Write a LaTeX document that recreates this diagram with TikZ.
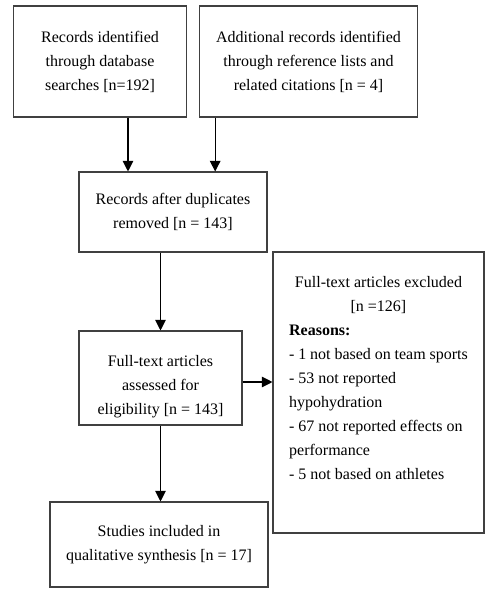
\documentclass[tikz,border=0pt]{standalone}
\usepackage{fontspec}
\setmainfont{Liberation Serif}
\usepackage{tikz}
\usetikzlibrary{arrows.meta,positioning}

\begin{document}
\begin{tikzpicture}[
    x=0.75pt, y=-0.75pt,
    every node/.style={font=\fontsize{12}{18}\selectfont},
    record/.style={
        draw=black!75,
        align=center,
        inner sep=0pt,
        line width=0.8pt
    },
    arrow/.style={-{Triangle[length=8pt,width=8pt]}, line width=0.8pt}
]
\useasboundingbox (0,0) rectangle (501,597);

\node[record, minimum width=173*0.75pt, minimum height=111*0.75pt] (database) at (100,61.5)
    {Records identified\\through database\\searches [n=192]};
\node[record, minimum width=218*0.75pt, minimum height=111*0.75pt] (additional) at (308.5,61.5)
    {Additional records identified\\through reference lists and\\related citations [n = 4]};
\node[record, minimum width=188*0.75pt, minimum height=80*0.75pt] (duplicates) at (173,212)
    {Records after duplicates\\removed [n = 143]};
\node[record, minimum width=163*0.75pt, minimum height=94*0.75pt] (eligibility) at (160.5,378)
    {\rule{0pt}{21pt}Full-text articles\\assessed for\\eligibility [n = 143]};
\node[record, minimum width=211*0.75pt, minimum height=281*0.75pt] (excluded) at (378.5,392.5)
    {\parbox[c][174.75pt][t]{134pt}{\fontsize{12}{18}\selectfont
     {\centering Full-text articles excluded\\{}[n =126]\par}
     \raggedright
     \textbf{Reasons:}\\
     - 1 not based on team sports\\
     - 53 not reported\\
     hypohydration\\
     - 67 not reported effects on\\
     performance\\
     - 5 not based on athletes}};
\node[record, minimum width=218*0.75pt, minimum height=85*0.75pt] (included) at (159,544.5)
    {Studies included in\\qualitative synthesis [n = 17]};

\draw[arrow] ([xshift=21pt]database.south) -- ([xshift=21pt]database.south |- duplicates.north);
\draw[arrow] ([xshift=-70pt]additional.south) -- ([xshift=-70pt]additional.south |- duplicates.north);
\draw[arrow] (duplicates.south -| eligibility.north) -- (eligibility.north);
\draw[arrow] ([yshift=-3pt]eligibility.east) -- ([yshift=-3pt]eligibility.east -| excluded.west);
\draw[arrow] (eligibility.south) -- (eligibility.south |- included.north);
\end{tikzpicture}
\end{document}
